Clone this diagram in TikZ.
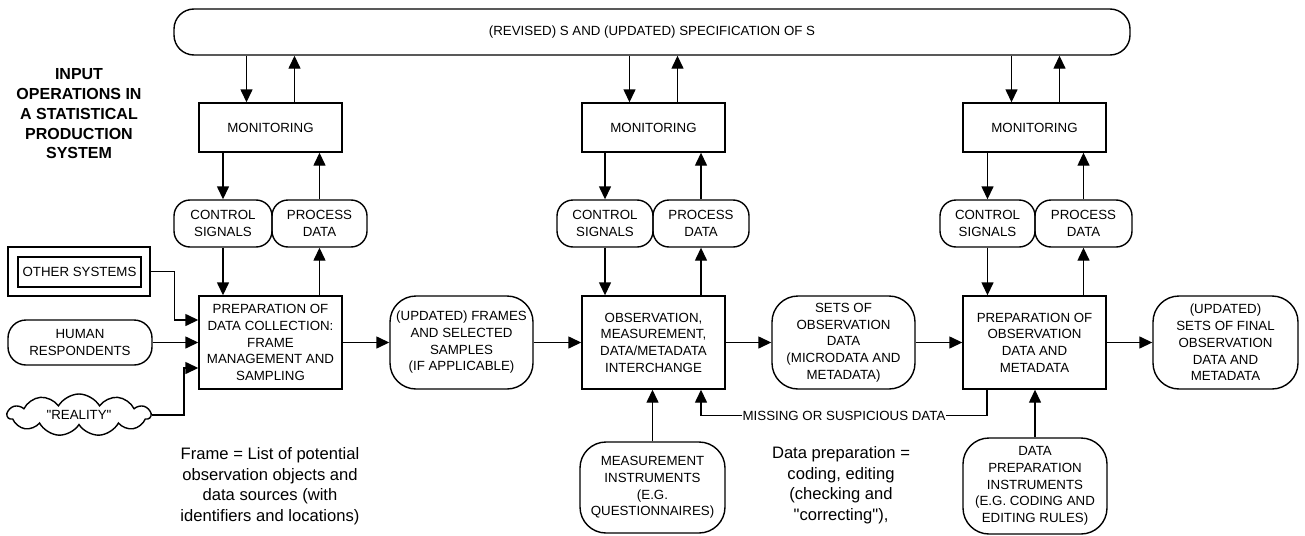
\documentclass[tikz,border=0pt]{standalone}
\usepackage{fontspec}
\setmainfont{Liberation Sans}[Ligatures=TeXOff]
\usetikzlibrary{arrows.meta,shapes.symbols}
\begin{document}
\begin{tikzpicture}[x=1pt,y=-1pt,
  font=\fontsize{13.3}{16.7}\selectfont,
  line width=1.4pt,
  box/.style={draw, rectangle, align=center, inner sep=0pt},
  term/.style={draw, rectangle, rounded corners=16pt, align=center, inner sep=0pt},
  bigterm/.style={draw, rectangle, rounded corners=26pt, align=center, inner sep=0pt, minimum width=143pt, minimum height=93pt},
  monbox/.style={box, minimum width=143pt, minimum height=49pt},
  procbox/.style={box, minimum width=143pt, minimum height=93pt},
  sig/.style={term, minimum height=47pt},
  note/.style={align=center, inner sep=0pt, font=\fontsize{16.6}{20.5}\selectfont},
  arr/.style={-{Triangle[length=13pt,width=12pt]}},
]
\useasboundingbox (0,0) rectangle (1305,535);

% top bar
\node[term, rounded corners=20pt, minimum width=956pt, minimum height=46pt] (bar) at (652,32) {(REVISED) S AND (UPDATED) SPECIFICATION OF S};

% title
\node[align=center, inner sep=0pt, font=\fontsize{16}{19.75}\selectfont\bfseries] (title) at (79,114)
  {INPUT\\OPERATIONS IN\\A STATISTICAL\\PRODUCTION\\SYSTEM};

% monitoring boxes
\node[monbox] (mon1) at (270.5,127.5) {MONITORING};
\node[monbox] (mon2) at (653.5,127.5) {MONITORING};
\node[monbox] (mon3) at (1034.5,127.5) {MONITORING};

% control signals / process data
\node[sig, minimum width=98pt] (cs1) at (223,223.5) {CONTROL\\SIGNALS};
\node[sig, minimum width=95pt] (pd1) at (319.5,223.5) {PROCESS\\DATA};
\node[sig, minimum width=96pt] (cs2) at (605,223.5) {CONTROL\\SIGNALS};
\node[sig, minimum width=96pt] (pd2) at (701,223.5) {PROCESS\\DATA};
\node[sig, minimum width=95pt] (cs3) at (987.5,223.5) {CONTROL\\SIGNALS};
\node[sig, minimum width=97pt] (pd3) at (1083.5,223.5) {PROCESS\\DATA};

% main row
\node[procbox] (prep1) at (270.5,342.5) {PREPARATION OF\\DATA COLLECTION:\\FRAME\\MANAGEMENT AND\\SAMPLING};
\node[bigterm] (upd) at (461.5,342.5) {(UPDATED) FRAMES\\AND SELECTED\\SAMPLES\\(IF APPLICABLE)};
\node[procbox] (obs) at (653.5,342.5) {OBSERVATION,\\MEASUREMENT,\\DATA/METADATA\\INTERCHANGE};
\node[bigterm] (sets) at (843.5,342.5) {SETS OF\\OBSERVATION\\DATA\\(MICRODATA AND\\METADATA)};
\node[procbox] (prepobs) at (1034.5,342.5) {PREPARATION OF\\OBSERVATION\\DATA AND\\METADATA};
\node[bigterm, minimum width=145pt] (final) at (1225.5,342.5) {(UPDATED)\\SETS OF FINAL\\OBSERVATION\\DATA AND\\METADATA};

% inputs on the left
\node[box, minimum width=142pt, minimum height=49pt] (os) at (79,271.5) {};
\node[box, minimum width=123pt, minimum height=30pt] (osin) at (79.5,272) {OTHER SYSTEMS};
\node[term, rounded corners=18pt, minimum width=144pt, minimum height=45pt] (human) at (80,342.5) {HUMAN\\RESPONDENTS};
\node[draw, cloud, cloud puffs=11, cloud puff arc=120, aspect=3.3, inner sep=0pt,
      minimum width=143pt, minimum height=42pt] (reality) at (79,415) {"REALITY"};

% bottom instruments
\node[bigterm, minimum width=145pt, minimum height=91pt] (measure) at (652.5,487.5) {MEASUREMENT\\INSTRUMENTS\\(E.G.\\QUESTIONNAIRES)};
\node[bigterm, minimum width=144pt, minimum height=96pt] (dpinst) at (1035,486) {DATA\\PREPARATION\\INSTRUMENTS\\(E.G. CODING AND\\EDITING RULES)};

% notes
\node[note] (framenote) at (270,486) {Frame = List of potential\\observation objects and\\data sources (with\\identifiers and locations)};
\node[note] (dpnote) at (841,485) {Data preparation =\\coding, editing\\(checking and\\"correcting"),};

% bar <-> monitoring
\coordinate (m1a) at ([xshift=-24pt]mon1.north);
\coordinate (m1b) at ([xshift=24pt]mon1.north);
\coordinate (m2a) at ([xshift=-24pt]mon2.north);
\coordinate (m2b) at ([xshift=24pt]mon2.north);
\coordinate (m3a) at ([xshift=-23pt]mon3.north);
\coordinate (m3b) at ([xshift=25pt]mon3.north);
\draw[arr] (m1a |- bar.south) -- (m1a);
\draw[arr] (m1b) -- (m1b |- bar.south);
\draw[arr] (m2a |- bar.south) -- (m2a);
\draw[arr] (m2b) -- (m2b |- bar.south);
\draw[arr] (m3a |- bar.south) -- (m3a);
\draw[arr] (m3b) -- (m3b |- bar.south);

% monitoring <-> signals <-> process boxes
\foreach \m/\c/\p/\b in {mon1/cs1/pd1/prep1, mon2/cs2/pd2/obs, mon3/cs3/pd3/prepobs}{
  \draw[arr] (\c.north |- \m.south) -- (\c.north);
  \draw[arr] (\p.north) -- (\p.north |- \m.south);
  \draw[arr] (\c.south) -- (\c.south |- \b.north);
  \draw[arr] (\p.south |- \b.north) -- (\p.south);
}

% main flow
\draw[arr] (prep1.east) -- (upd.west);
\draw[arr] (upd.east) -- (obs.west);
\draw[arr] (obs.east) -- (sets.west);
\draw[arr] (sets.east) -- (prepobs.west);
\draw[arr] (prepobs.east) -- (final.west);

% inputs
\draw[arr] (os.east) -- ++(24,0) |- ([yshift=22.5pt]prep1.west);
\draw[arr] (human.east) -- (prep1.west);
\draw[arr] (reality.east) -- ++(32,0) |- ([yshift=-25.5pt]prep1.west);

% instruments
\draw[arr] (measure.north) -- (measure.north |- obs.south);
\draw[arr] (dpinst.north) -- (dpinst.north |- prepobs.south);

% missing or suspicious data
\draw[arr] ([xshift=-47.5pt]prepobs.south) -- ++(0,26)
  -| node[pos=0.25, fill=white, inner xsep=1pt, inner ysep=2pt] (miss) {MISSING OR SUSPICIOUS DATA}
  ([xshift=47.5pt]obs.south);
\end{tikzpicture}
\end{document}
